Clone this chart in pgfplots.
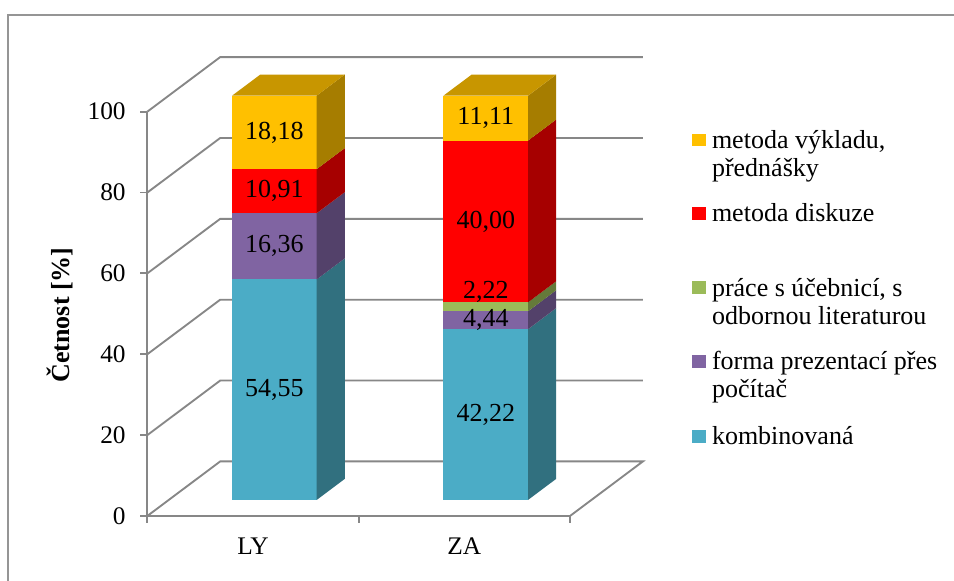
\documentclass[border=0pt]{standalone}
\usepackage{pgfplots}
\pgfplotsset{compat=1.18}
\usepackage{fontspec}
\setmainfont{Liberation Serif}

\definecolor{kombF}{HTML}{4BACC6}
\definecolor{kombS}{HTML}{31707F}
\definecolor{formF}{HTML}{8064A2}
\definecolor{formS}{HTML}{53416A}
\definecolor{praceF}{HTML}{9BBB59}
\definecolor{praceS}{HTML}{657A3A}
\definecolor{diskF}{HTML}{FF0000}
\definecolor{diskS}{HTML}{A60000}
\definecolor{vyklF}{HTML}{FFC000}
\definecolor{vyklS}{HTML}{A67D00}
\definecolor{vyklT}{HTML}{C89600}
\definecolor{gridc}{HTML}{878787}
\definecolor{framec}{HTML}{959595}

\newcommand\lbl{\fontsize{19.5}{21}\selectfont}
\newcommand\tkf{\fontsize{19}{21}\selectfont}

% depth offsets (axis units) of bar front and back planes
\def\ofxa{0.1014}\def\ofya{3.97}\def\ofxb{0.2346}\def\ofyb{9.18}

% one stacked segment: #1 category, #2 value, #3 front colour, #4 side colour
\newcommand\seg[4]{%
  \ifdim #2pt>0pt
  \pgfmathsetmacro\yb{\cum}%
  \pgfmathsetmacro\yt{\cum+#2}%
  \pgfmathsetmacro\xl{#1-0.2+\ofxa}%
  \pgfmathsetmacro\xr{#1+0.2+\ofxa}%
  \pgfmathsetmacro\xrb{#1+0.2+\ofxb}%
  \pgfmathsetmacro\yba{\yb+\ofya}%
  \pgfmathsetmacro\yta{\yt+\ofya}%
  \pgfmathsetmacro\ybb{\yb+\ofyb}%
  \pgfmathsetmacro\ytb{\yt+\ofyb}%
  \edef\tmp{\noexpand\addplot[fill=#3,draw=none] coordinates {(\xl,\yba) (\xr,\yba) (\xr,\yta) (\xl,\yta)};
    \noexpand\addplot[fill=#4,draw=none] coordinates {(\xr,\yba) (\xrb,\ybb) (\xrb,\ytb) (\xr,\yta)};}%
  \tmp
  \xdef\cum{\yt}%
  \fi}
% top face of the stack: #1 category, #2 colour
\newcommand\topface[2]{%
  \pgfmathsetmacro\xl{#1-0.2+\ofxa}%
  \pgfmathsetmacro\xr{#1+0.2+\ofxa}%
  \pgfmathsetmacro\xlb{#1-0.2+\ofxb}%
  \pgfmathsetmacro\xrb{#1+0.2+\ofxb}%
  \pgfmathsetmacro\yta{\cum+\ofya}%
  \pgfmathsetmacro\ytb{\cum+\ofyb}%
  \edef\tmp{\noexpand\addplot[fill=#2,draw=none] coordinates {(\xl,\yta) (\xr,\yta) (\xrb,\ytb) (\xlb,\ytb)};}%
  \tmp}
% #1 category; #2 kombinovana, #3 forma prezentaci, #4 prace s ucebnici, #5 metoda diskuze, #6 metoda vykladu
\newcommand\stackbar[6]{%
  \xdef\cum{0}%
  \seg{#1}{#2}{kombF}{kombS}%
  \seg{#1}{#3}{formF}{formS}%
  \seg{#1}{#4}{praceF}{praceS}%
  \seg{#1}{#5}{diskF}{diskS}%
  \seg{#1}{#6}{vyklF}{vyklS}%
  \topface{#1}{vyklT}}

\begin{document}
\begin{tikzpicture}
\useasboundingbox (0,0) rectangle (715.5pt,435.75pt);
\fill[white] (0,0) rectangle (715.5pt,435.75pt);
% chart frame
\draw[framec, line width=1.3pt] (6.2pt,0) -- (6.2pt,424.5pt) -- (715.5pt,424.5pt);

\begin{axis}[
  at={(110.475pt,48.75pt)}, anchor=south west,
  x=158.51pt, y=3.0323pt,
  xmin=0.5, xmax=2.85, ymin=0, ymax=114,
  clip=false,
  axis line style={draw=none},
  ytick={0,20,40,60,80,100},
  xtick={1,2}, xticklabels={LY,ZA},
  minor xtick={0.5,1.5,2.5},
  every major x tick/.append style={draw=none},
  tick pos=left, tick align=outside,
  major tick length=5.25pt, minor tick length=5.25pt,
  tick style={gridc, line width=1.4pt},
  /pgf/number format/assume math mode=true,
  tick label style={font=\tkf, text=black},
  yticklabel style={xshift=-7.5pt},
  xticklabel style={yshift=-7.5pt},
]
% walls and floor
\draw[gridc, line width=1.4pt] (axis cs:0.5,0) -- (axis cs:0.845,13.5) -- (axis cs:2.845,13.5) -- (axis cs:2.5,0) -- cycle;
\draw[gridc, line width=1.4pt] (axis cs:0.5,0) -- (axis cs:0.5,100);
\draw[gridc, line width=1.4pt] (axis cs:0.5,20) -- (axis cs:0.845,33.5) -- (axis cs:2.845,33.5);
\draw[gridc, line width=1.4pt] (axis cs:0.5,40) -- (axis cs:0.845,53.5) -- (axis cs:2.845,53.5);
\draw[gridc, line width=1.4pt] (axis cs:0.5,60) -- (axis cs:0.845,73.5) -- (axis cs:2.845,73.5);
\draw[gridc, line width=1.4pt] (axis cs:0.5,80) -- (axis cs:0.845,93.5) -- (axis cs:2.845,93.5);
\draw[gridc, line width=1.4pt] (axis cs:0.5,100) -- (axis cs:0.845,113.5) -- (axis cs:2.845,113.5);

% bars: LY and ZA
\stackbar{1}{54.55}{16.36}{0}{10.91}{18.18}
\stackbar{2}{42.22}{4.44}{2.22}{40.00}{11.11}

% data labels
\node[font=\lbl] at (axis cs:1.1014,31.25) {54,55};
\node[font=\lbl] at (axis cs:1.1014,66.70) {16,36};
\node[font=\lbl] at (axis cs:1.1014,80.34) {10,91};
\node[font=\lbl] at (axis cs:1.1014,94.88) {18,18};
\node[font=\lbl] at (axis cs:2.1014,25.08) {42,22};
\node[font=\lbl] at (axis cs:2.1014,48.45) {4,44};
\node[font=\lbl] at (axis cs:2.1014,55.48) {2,22};
\node[font=\lbl] at (axis cs:2.1014,72.85) {40,00};
\node[font=\lbl] at (axis cs:2.1014,98.41) {11,11};
\end{axis}

% y axis title
\node[font=\lbl\bfseries, rotate=90] at (45pt,199.5pt) {Četnost [\%]};

% legend
\fill[vyklF]  (518.8pt,325.9pt) rectangle (529.3pt,335.6pt);
\fill[diskF]  (518.8pt,270.9pt) rectangle (529.3pt,280.6pt);
\fill[praceF] (518.8pt,215.6pt) rectangle (529.3pt,225.3pt);
\fill[formF]  (518.8pt,160.1pt) rectangle (529.3pt,169.8pt);
\fill[kombF]  (518.8pt,103.7pt) rectangle (529.3pt,113.4pt);
\begin{scope}[every node/.style={anchor=base west, inner sep=0pt, font=\lbl}]
\node at (533.8pt,324.2pt) {metoda výkladu,};
\node at (533.8pt,303.2pt) {přednášky};
\node at (533.8pt,269.5pt) {metoda diskuze};
\node at (533.8pt,213.2pt) {práce s účebnicí, s};
\node at (533.8pt,192.0pt) {odbornou literaturou};
\node at (533.8pt,158.6pt) {forma prezentací přes};
\node at (533.8pt,137.6pt) {počítač};
\node at (533.8pt,102.2pt) {kombinovaná};
\end{scope}
\end{tikzpicture}
\end{document}
